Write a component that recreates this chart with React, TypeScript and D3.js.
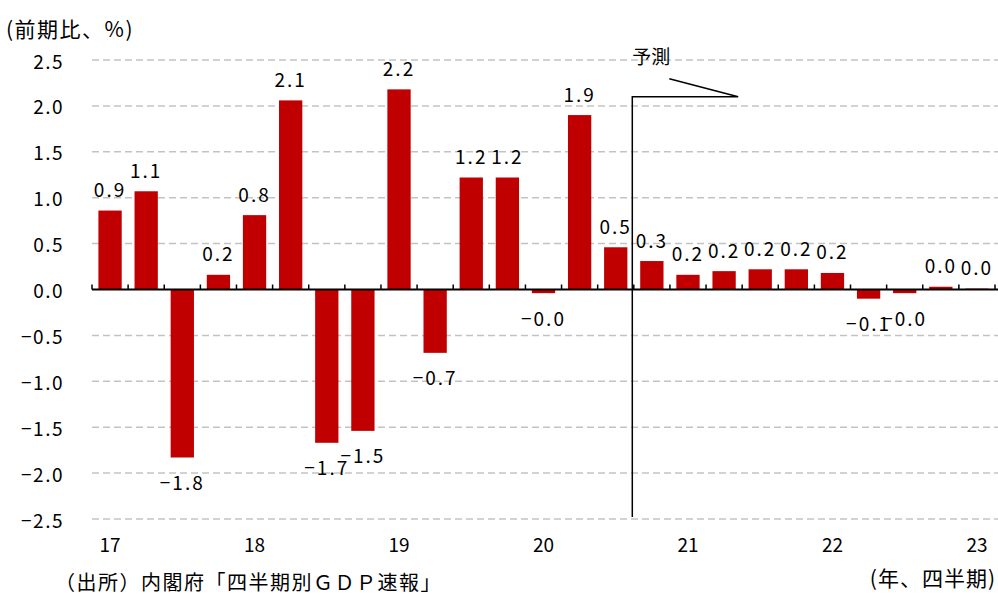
import React from "react";
import * as d3 from "d3";

// Quarterly real GDP growth, quarter-on-quarter (%)
const quarters = [
  "17Q1", "17Q2", "17Q3", "17Q4",
  "18Q1", "18Q2", "18Q3", "18Q4",
  "19Q1", "19Q2", "19Q3", "19Q4",
  "20Q1", "20Q2", "20Q3", "20Q4",
  "21Q1", "21Q2", "21Q3", "21Q4",
  "22Q1", "22Q2", "22Q3", "22Q4",
  "23Q1",
];

const growth = [
  0.86, 1.07, -1.83, 0.16,
  0.81, 2.06, -1.67, -1.54,
  2.18, -0.69, 1.22, 1.22,
  -0.04, 1.9, 0.46, 0.31,
  0.16, 0.2, 0.22, 0.22,
  0.18, -0.1, -0.04, 0.03,
  0.01,
];

const yearLabels = ["17", "18", "19", "20", "21", "22", "23"];
const yTickValues = [2.5, 2.0, 1.5, 1.0, 0.5, 0.0, -0.5, -1.0, -1.5, -2.0, -2.5];
const forecastFrom = "20Q4";

const yAxisTitle = "(前期比、%)";
const xAxisTitle = "(年、四半期)";
const sourceNote = "（出所）内閣府「四半期別ＧＤＰ速報」";
const forecastText = "予測";

const W = 998;
const H = 595;
const FONT = "'Noto Sans CJK JP', 'Noto Sans', sans-serif";
const BAR = "#C00000";

const fmtValue = (v: number) => (v < 0 ? "\u2212" : "") + Math.abs(v).toFixed(1);
const fmtTick = (v: number) => (v < 0 ? "\u2212" : "") + Math.abs(v).toFixed(1);

export default function App() {
  const x = d3
    .scaleBand<string>()
    .domain(quarters)
    .range([92, 995])
    .paddingInner(0.355)
    .paddingOuter(0.1775);
  const y = d3.scaleLinear().domain([-2.5, 2.5]).range([519, 60]);

  const step = x.step();
  const gap = step - x.bandwidth();
  const leftEdge = (q: string) => (x(q) as number) - gap / 2;
  const center = (q: string) => (x(q) as number) + x.bandwidth() / 2;

  const [x0, x1] = [92, W];
  const zeroY = y(0);
  const boundaries = d3.range(quarters.length + 1).map((i) => x.range()[0] + i * step);

  // forecast bracket
  const fx = leftEdge(forecastFrom) - 1.5;
  const fTop = y(2.1);
  const fRight = leftEdge("21Q3") - 4;
  const calloutEnd = { x: fx + 37, y: fTop - 18 };

  return (
    <svg
      width={W}
      height={H}
      style={{ position: "absolute", left: 0, top: 0, background: "#fff" }}
      fontFamily={FONT}
    >
      {/* gridlines */}
      {yTickValues
        .filter((v) => v !== 0)
        .map((v) => (
          <line
            key={"g" + v}
            x1={x0}
            x2={x1}
            y1={y(v)}
            y2={y(v)}
            stroke="#c3c3c3"
            strokeWidth={1.5}
            strokeDasharray="7 4"
          />
        ))}

      {/* y tick labels */}
      {yTickValues.map((v) => (
        <text
          key={"t" + v}
          x={64}
          y={y(v)}
          textAnchor="end"
          dominantBaseline="central"
          fontSize={19}
          letterSpacing={1.5}
          fill="#000"
        >
          {fmtTick(v)}
        </text>
      ))}

      {/* bars */}
      {quarters.map((q, i) => {
        const v = growth[i];
        const top = Math.min(y(v), zeroY);
        const h = Math.abs(y(v) - zeroY);
        return (
          <rect
            key={q}
            x={x(q)}
            y={top}
            width={x.bandwidth()}
            height={Math.max(h, 1)}
            fill={BAR}
          />
        );
      })}

      {/* category axis */}
      <line x1={x0} x2={x1} y1={zeroY} y2={zeroY} stroke="#000" strokeWidth={2} />
      {boundaries.map((bx, i) => (
        <line key={"k" + i} x1={bx} x2={bx} y1={zeroY} y2={zeroY - 5} stroke="#000" strokeWidth={1.5} />
      ))}

      {/* value labels */}
      {quarters.map((q, i) => {
        const v = growth[i];
        const ly = v >= 0 ? y(v) - 22 : y(v) + 24;
        return (
          <text
            key={"l" + q}
            x={center(q)}
            y={ly}
            textAnchor="middle"
            dominantBaseline="central"
            fontSize={19}
            letterSpacing={2}
            fill="#000"
          >
            {fmtValue(v)}
          </text>
        );
      })}

      {/* year labels */}
      {quarters
        .filter((q) => q.endsWith("Q1"))
        .map((q, i) => (
          <text
            key={"y" + q}
            x={center(q)}
            y={543}
            textAnchor="middle"
            dominantBaseline="central"
            fontSize={19}
            fill="#000"
          >
            {yearLabels[i]}
          </text>
        ))}

      {/* forecast bracket */}
      <path
        d={`M${fx},${y(-2.5) - 2}V${fTop}H${fRight}L${calloutEnd.x},${calloutEnd.y}`}
        fill="none"
        stroke="#000"
        strokeWidth={1.5}
      />
      <text x={fx} y={55} dominantBaseline="central" fontSize={19} fill="#000">
        {forecastText}
      </text>

      {/* titles */}
      <text x={6} y={28} dominantBaseline="central" fontSize={21} letterSpacing={1.5} fill="#000">
        {yAxisTitle}
      </text>
      <text x={996} y={577} textAnchor="end" dominantBaseline="central" fontSize={21} letterSpacing={1} fill="#000">
        {xAxisTitle}
      </text>
      <text x={55} y={581} dominantBaseline="central" fontSize={20} letterSpacing={1.5} fill="#000">
        {sourceNote}
      </text>
    </svg>
  );
}
